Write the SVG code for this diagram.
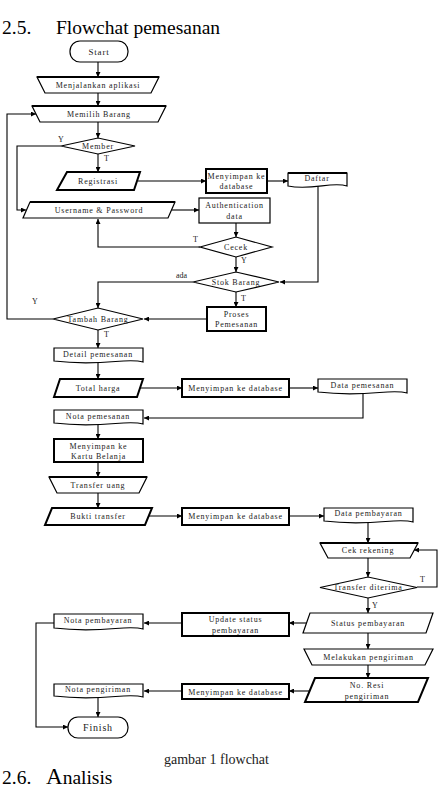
<svg xmlns="http://www.w3.org/2000/svg" width="442" height="792" viewBox="0 0 442 792">
<style>
.s{fill:#fff;stroke:#000;stroke-width:1.2}
.b{fill:#fff;stroke:#000;stroke-width:2}
.c{fill:none;stroke:#000;stroke-width:1.1}
.t{font-family:"Liberation Serif",serif;font-size:8px;letter-spacing:0.8px;text-anchor:middle;fill:#222}
.l{font-family:"Liberation Serif",serif;font-size:8px;fill:#222}
.h{font-family:"Liberation Serif",serif;font-size:19.5px;fill:#000}
</style>
<defs>
<marker id="a" viewBox="0 0 6 6" refX="6" refY="3" markerWidth="5" markerHeight="5" markerUnits="userSpaceOnUse" orient="auto"><path d="M0,0L6,3L0,6z" fill="#000"/></marker>
</defs>
<rect width="442" height="792" fill="#fff"/>
<text class="h" x="2" y="34">2.5.</text>
<text class="h" x="56" y="34">Flowchat pemesanan</text>

<g id="connectors" class="c" marker-end="url(#a)">
<path d="M98,62V77"/>
<path d="M98,93V106"/>
<path d="M98,122V138"/>
<path d="M61,146H17V210H26"/>
<path d="M98,154V172"/>
<path d="M138,181H206"/>
<path d="M267,181H288"/>
<path d="M318,186V282H280"/>
<path d="M172,210H199"/>
<path d="M236,223V237"/>
<path d="M200,247H98V219"/>
<path d="M236,257V272"/>
<path d="M193,282H98V308"/>
<path d="M236,292V307"/>
<path d="M207,319H144"/>
<path d="M53,319H7V114H36"/>
<path d="M98,330V348"/>
<path d="M98,362V379"/>
<path d="M140,388H182"/>
<path d="M289,388H318"/>
<path d="M363,393V418H144"/>
<path d="M98,424V439"/>
<path d="M98,462V477"/>
<path d="M98,493V508"/>
<path d="M149,516H182"/>
<path d="M289,516H324"/>
<path d="M368,522V543"/>
<path d="M368,558V577"/>
<path d="M417,587H437V550H414"/>
<path d="M368,598V613"/>
<path d="M306,623H289"/>
<path d="M182,623H144"/>
<path d="M54,623H36V727H68"/>
<path d="M368,633V649"/>
<path d="M368,665V678"/>
<path d="M311,691H289"/>
<path d="M182,691H144"/>
<path d="M98,697V717"/>
</g>
<g id="edge-labels">
<text class="l" x="58" y="142">Y</text>
<text class="l" x="104" y="161">T</text>
<text class="l" x="193" y="242">T</text>
<text class="l" x="241" y="263">Y</text>
<text class="l" x="176" y="278">ada</text>
<text class="l" x="241" y="301">T</text>
<text class="l" x="32" y="304">Y</text>
<text class="l" x="104" y="337">T</text>
<text class="l" x="420" y="582">T</text>
<text class="l" x="372" y="608">Y</text>
</g>

<g id="start"><rect class="s" x="70" y="41" width="58" height="21" rx="10"/><text class="t" x="99" y="55" style="font-size:9px">Start</text></g>
<g id="menjalankan"><path class="s" d="M37,77H159L151,93H45Z"/><path class="c" d="M37,77H159" style="stroke-width:2"/><text class="t" x="98" y="88">Menjalankan aplikasi</text></g>
<g id="memilih"><path class="s" d="M32,106H166L158,122H40Z"/><path class="c" d="M32,106H166" style="stroke-width:2"/><text class="t" x="99" y="117">Memilih Barang</text></g>
<g id="member"><path class="s" d="M61,146L98,138L135,146L98,154Z"/><text class="t" x="98" y="148.5">Member</text></g>
<g id="registrasi"><path class="b" d="M67,172H140L134,190H57Z"/><text class="t" x="98" y="183.5">Registrasi</text></g>
<g id="simpan1"><rect class="b" x="206" y="169" width="61" height="24"/><text class="t" x="236.5" y="178.5">Menyimpan ke</text><text class="t" x="236.5" y="188.5">database</text></g>
<g id="daftar"><path class="s" d="M288,173H347V186C332,181 312,191 288,186Z"/><path class="c" d="M288,173H347" style="stroke-width:2"/><text class="t" x="317" y="181">Daftar</text></g>
<g id="username"><path class="s" d="M30,202H175L168,218H23Z"/><path class="c" d="M30,202H175" style="stroke-width:2"/><text class="t" x="99" y="212.5">Username &amp; Password</text></g>
<g id="auth"><rect class="s" x="199" y="198" width="71" height="25"/><text class="t" x="234.5" y="208">Authentication</text><text class="t" x="234.5" y="219">data</text></g>
<g id="cecek"><path class="s" d="M200,247L236,237L272,247L236,257Z"/><text class="t" x="236" y="249.5">Cecek</text></g>
<g id="stok"><path class="s" d="M193,282L236,272L279,282L236,292Z"/><text class="t" x="236" y="284.5">Stok Barang</text></g>
<g id="proses"><rect class="b" x="207" y="307" width="59" height="24"/><text class="t" x="236.5" y="316.5">Proses</text><text class="t" x="236.5" y="327">Pemesanan</text></g>
<g id="tambah"><path class="s" d="M53,319L98,308L143,319L98,330Z"/><text class="t" x="98" y="321.5">Tambah Barang</text></g>
<g id="detail"><path class="s" d="M54,348H143V362C126,357 104,367 54,361Z"/><text class="t" x="98" y="357">Detail pemesanan</text></g>
<g id="total"><path class="b" d="M60,379H143L137,397H54Z"/><text class="t" x="98" y="390.5">Total harga</text></g>
<g id="simpan2"><rect class="b" x="182" y="379" width="107" height="18"/><text class="t" x="235.5" y="390.5">Menyimpan ke database</text></g>
<g id="datapemesanan"><path class="s" d="M318,379H407V393C390,388 368,398 318,392Z"/><text class="t" x="362.5" y="387.5">Data pemesanan</text></g>
<g id="notapemesanan"><path class="s" d="M54,410H143V424C126,419 104,429 54,423Z"/><text class="t" x="98" y="418.5">Nota pemesanan</text></g>
<g id="kartu"><rect class="b" x="54" y="439" width="89" height="23"/><text class="t" x="98.5" y="448.5">Menyimpan ke</text><text class="t" x="98.5" y="458.5">Kartu Belanja</text></g>
<g id="transfer"><path class="s" d="M49,477H147L139,493H57Z"/><path class="c" d="M49,477H147" style="stroke-width:2"/><text class="t" x="98" y="487.5">Transfer uang</text></g>
<g id="bukti"><path class="b" d="M52,508H152L145,525H45Z"/><text class="t" x="98" y="519">Bukti transfer</text></g>
<g id="simpan3"><rect class="b" x="182" y="508" width="107" height="17"/><text class="t" x="235.5" y="519">Menyimpan ke database</text></g>
<g id="datapembayaran"><path class="s" d="M324,508H413V522C396,517 374,527 324,521Z"/><text class="t" x="368.5" y="516">Data pembayaran</text></g>
<g id="cek"><path class="s" d="M320,543H418L410,558H328Z"/><path class="c" d="M320,543H418" style="stroke-width:2"/><text class="t" x="368" y="553">Cek rekening</text></g>
<g id="diterima"><path class="s" d="M320,587.5L368,577L417,587.5L368,598Z"/><text class="t" x="368" y="590">Transfer diterima</text></g>
<g id="status"><path class="s" d="M310,613H433L426,633H303Z"/><text class="t" x="368" y="625.5">Status pembayaran</text></g>
<g id="update"><rect class="b" x="182" y="613" width="107" height="23"/><text class="t" x="235.5" y="622">Update status</text><text class="t" x="235.5" y="632.5">pembayaran</text></g>
<g id="notapembayaran"><path class="s" d="M54,614H143V629C126,624 104,634 54,628Z"/><text class="t" x="98" y="622.5">Nota pembayaran</text></g>
<g id="melakukan"><path class="s" d="M304,649H433L425,665H312Z"/><text class="t" x="368.5" y="659.5">Melakukan pengiriman</text></g>
<g id="resi"><path class="b" d="M315,678H428L418,702H305Z"/><text class="t" x="367" y="688">No. Resi</text><text class="t" x="367" y="699">pengiriman</text></g>
<g id="simpan4"><rect class="b" x="182" y="684" width="107" height="15"/><text class="t" x="235.5" y="694.5">Menyimpan ke database</text></g>
<g id="notapengiriman"><path class="s" d="M54,684H143V697C126,692 104,702 54,696Z"/><text class="t" x="98" y="692">Nota pengiriman</text></g>
<g id="finish"><rect class="s" x="68" y="717" width="60" height="21" rx="10"/><text class="t" x="98" y="731" style="font-size:10px">Finish</text></g>

<text x="216.5" y="764" style="font-family:'Liberation Serif',serif;font-size:14px;text-anchor:middle;fill:#222">gambar 1 flowchat</text>
<text class="h" x="2" y="784">2.6.</text>
<text class="h" x="46" y="784"><tspan style="font-size:23px">A</tspan>nalisis</text>
</svg>
